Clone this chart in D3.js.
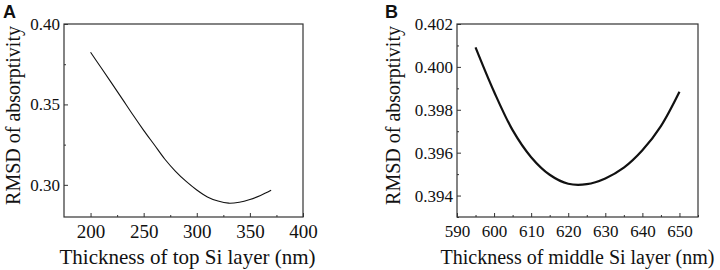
<!DOCTYPE html>
<html>
<head>
<meta charset="utf-8">
<script src="https://cdn.jsdelivr.net/npm/d3@7"></script>
<style>
  body { margin: 0; background: #fff; }
  svg { display: block; }
  text { font-family: "Liberation Serif", "Times New Roman", serif; fill: #111; }
  .panel-label { font-family: "Liberation Sans", Arial, sans-serif; font-weight: bold; }
</style>
</head>
<body>
<div id="chart"></div>
<script>
// panel A: top Si layer
const thickTop = [200, 210, 220, 230, 240, 250, 260, 270, 280, 290, 300, 310, 320, 330, 340, 350, 360, 370];
const rmsdTop = [0.3824, 0.3728, 0.3631, 0.3533, 0.3434, 0.3339, 0.3249, 0.3159, 0.3084, 0.3021, 0.2968, 0.2925, 0.2899, 0.2886, 0.2892, 0.2909, 0.2934, 0.2966];
const xTicksTop = [200, 250, 300, 350, 400];
const yTicksTop = [0.30, 0.35, 0.40];

// panel B: middle Si layer
const thickMid = [595, 600, 605, 610, 615, 620, 625, 630, 635, 640, 645, 650];
const rmsdMid = [0.40091, 0.39884, 0.39705, 0.39579, 0.39497, 0.39455, 0.39453, 0.39480, 0.39530, 0.39611, 0.39724, 0.39884];
const xTicksMid = [590, 600, 610, 620, 630, 640, 650];
const yTicksMid = [0.394, 0.396, 0.398, 0.400, 0.402];

const width = 720, height = 270;
const serif = '"Liberation Serif", "Times New Roman", serif';

const svg = d3.select("#chart")
  .append("svg")
  .attr("width", width)
  .attr("height", height);

function drawPanel(opts) {
  const g = svg.append("g");
  const [left, right, top, bottom] = opts.box;

  const x = d3.scaleLinear().domain(opts.xDomain).range([left, right]);
  const y = d3.scaleLinear().domain(opts.yDomain).range([bottom, top]);

  // minor ticks halfway between majors
  const xMinor = [];
  for (let i = 0; i < opts.xTicks.length - 1; i++) xMinor.push((opts.xTicks[i] + opts.xTicks[i + 1]) / 2);
  const yMinor = [];
  for (let i = 0; i < opts.yTicks.length - 1; i++) yMinor.push((opts.yTicks[i] + opts.yTicks[i + 1]) / 2);
  if (opts.yMinorExtra) yMinor.push(...opts.yMinorExtra);
  if (opts.xMinorExtra) xMinor.push(...opts.xMinorExtra);

  g.append("g")
    .attr("transform", `translate(0,${bottom})`)
    .call(d3.axisBottom(x).tickValues(xMinor).tickSize(-2).tickFormat(""))
    .call(a => a.select(".domain").remove());
  g.append("g")
    .attr("transform", `translate(${left},0)`)
    .call(d3.axisLeft(y).tickValues(yMinor).tickSize(-2).tickFormat(""))
    .call(a => a.select(".domain").remove());

  const xAxis = g.append("g")
    .attr("transform", `translate(0,${bottom})`)
    .call(d3.axisBottom(x).tickValues(opts.xTicks).tickSize(-4).tickPadding(8).tickFormat(d3.format("d")));
  xAxis.select(".domain").remove();
  xAxis.attr("font-family", serif);
  xAxis.selectAll("text")
    .style("font-family", serif)
    .style("font-size", opts.xTickFont + "px");

  const yAxis = g.append("g")
    .attr("transform", `translate(${left},0)`)
    .call(d3.axisLeft(y).tickValues(opts.yTicks).tickSize(-4).tickPadding(4).tickFormat(d3.format(opts.yFormat)));
  yAxis.select(".domain").remove();
  yAxis.attr("font-family", serif);
  yAxis.selectAll("text")
    .style("font-family", serif)
    .style("font-size", "17px");

  g.selectAll(".tick line").attr("stroke", "#333");

  // frame
  g.append("rect")
    .attr("x", left)
    .attr("y", top)
    .attr("width", right - left)
    .attr("height", bottom - top)
    .attr("fill", "none")
    .attr("stroke", "#333")
    .attr("stroke-width", 1.2);

  const line = d3.line()
    .x(d => x(d[0]))
    .y(d => y(d[1]))
    .curve(d3.curveCatmullRom);

  g.append("path")
    .datum(d3.zip(opts.xs, opts.ys))
    .attr("fill", "none")
    .attr("stroke", "#111")
    .attr("stroke-width", opts.lineWidth)
    .attr("d", line);

  // axis titles
  g.append("text")
    .attr("x", (left + right) / 2 + opts.xTitleShift)
    .attr("y", 264)
    .attr("text-anchor", "middle")
    .style("font-size", opts.xTitleFont + "px")
    .text(opts.xTitle);

  g.append("text")
    .attr("transform", `translate(${opts.yTitleX},${(top + bottom) / 2 - 5}) rotate(-90)`)
    .attr("text-anchor", "middle")
    .style("font-size", "20px")
    .text("RMSD of absorptivity");

  g.append("text")
    .attr("class", "panel-label")
    .attr("x", opts.labelX)
    .attr("y", 18)
    .style("font-size", "18px")
    .text(opts.label);
}

drawPanel({
  box: [64, 303, 24, 217],
  xDomain: [175, 400],
  yDomain: [0.28, 0.40],
  xTicks: xTicksTop,
  yTicks: yTicksTop,
  yMinorExtra: [],
  yFormat: ".2f",
  xTickFont: 19,
  xs: thickTop,
  ys: rmsdTop,
  lineWidth: 1.1,
  xTitle: "Thickness of top Si layer (nm)",
  xTitleFont: 21,
  xTitleShift: 4,
  yTitleX: 20,
  label: "A",
  labelX: 3
});

drawPanel({
  box: [457, 698, 24, 217],
  xDomain: [590, 655],
  yDomain: [0.393, 0.402],
  xTicks: xTicksMid,
  yTicks: yTicksMid,
  yMinorExtra: [0.393],
  xMinorExtra: [655],
  yFormat: ".3f",
  xTickFont: 17,
  xs: thickMid,
  ys: rmsdMid,
  lineWidth: 2.2,
  xTitle: "Thickness of middle Si layer (nm)",
  xTitleFont: 20,
  xTitleShift: 0,
  yTitleX: 400,
  label: "B",
  labelX: 385
});
</script>
</body>
</html>
